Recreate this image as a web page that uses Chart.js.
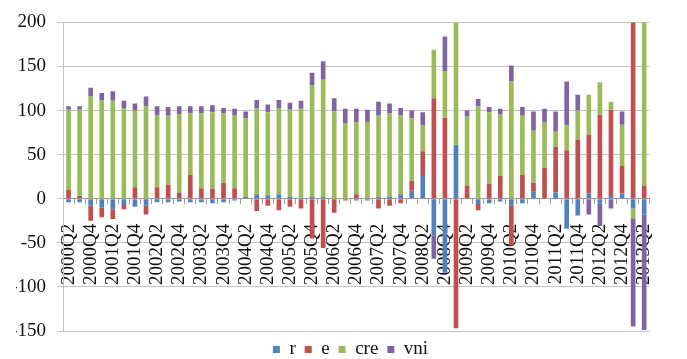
<!DOCTYPE html>
<html>
<head>
<meta charset="utf-8">
<script src="https://cdn.jsdelivr.net/npm/chart.js@4/dist/chart.umd.min.js"></script>
<style>
  html, body { margin: 0; padding: 0; background: #fff; }
  #wrap { width: 687px; height: 359px; }
</style>
</head>
<body>
<div id="wrap"><canvas id="c" width="687" height="359"></canvas></div>
<script>
// Quarterly categories, 2000Q2 .. 2013Q2
const quarters = [
  '2000Q2','2000Q3','2000Q4',
  '2001Q1','2001Q2','2001Q3','2001Q4',
  '2002Q1','2002Q2','2002Q3','2002Q4',
  '2003Q1','2003Q2','2003Q3','2003Q4',
  '2004Q1','2004Q2','2004Q3','2004Q4',
  '2005Q1','2005Q2','2005Q3','2005Q4',
  '2006Q1','2006Q2','2006Q3','2006Q4',
  '2007Q1','2007Q2','2007Q3','2007Q4',
  '2008Q1','2008Q2','2008Q3','2008Q4',
  '2009Q1','2009Q2','2009Q3','2009Q4',
  '2010Q1','2010Q2','2010Q3','2010Q4',
  '2011Q1','2011Q2','2011Q3','2011Q4',
  '2012Q1','2012Q2','2012Q3','2012Q4',
  '2013Q1','2013Q2'
];

// Stacked components per quarter
const r = [
  -4, -4, -8, -10, -12, -7, -9, -8, -4, -4, -3,
  -4, -4, -5, -4, -2, 2, 5, 4, 5, 2, 1, 2,
  2, 0, 0, -2, -2, 2, 2, 5, 9, 27, -42, -84,
  61, 0, -6, -5, -3, -8, -5, 8, 0, 7, -34, -19,
  6, -5, 3, 6, -11, -18
];
const e = [
  10, 3, -17, -11, -11, -5, 13, -10, 13, 16, 7,
  27, 12, 11, 18, 12, 0, -14, -8, -13, -9, -11, -45,
  -56, -16, -2, 5, 1, -11, -8, -5, 11, 27, 114, 92,
  -147, 15, -7, 17, 26, -45, 27, 10, 35, 52, 55, 67,
  67, 95, 98, 31, 205, 15
];
const cre = [
  91, 98, 116, 112, 111, 103, 87, 105, 82, 78, 89,
  70, 85, 87, 79, 83, 89, 98, 94, 98, 99, 101, 127,
  133, 99, 85, 82, 86, 93, 95, 90, 71, 29, 55, 53,
  142, 78, 105, 81, 70, 133, 67, 59, 52, 17, 28, 33,
  45, 37, 9, 47, -11, 190
];
const vni = [
  4, 4, 10, 8, 11, 8, 8, 11, 10, 10, 9,
  8, 8, 8, 6, 7, 8, 9, 9, 9, 8, 9, 14,
  21, 15, 17, 15, 14, 15, 11, 8, 9, 15, -26, 39,
  0, 7, 8, 6, 6, 18, 10, 22, 15, 23, 50, 18,
  -18, -26, -11, 15, -123, -131
];

// Value axis ticks
const yTicks = [-150, -100, -50, 0, 50, 100, 150, 200];

const serif = "'Liberation Serif', 'Times New Roman', serif";
const gridGray = '#c4c4c4';

new Chart(document.getElementById('c'), {
  type: 'bar',
  data: {
    labels: quarters,
    datasets: [
      { label: 'r',   data: r,   backgroundColor: '#4F81BD' },
      { label: 'e',   data: e,   backgroundColor: '#C0504D' },
      { label: 'cre', data: cre, backgroundColor: '#9BBB59' },
      { label: 'vni', data: vni, backgroundColor: '#8064A2' }
    ]
  },
  options: {
    responsive: false,
    animation: false,
    events: [],
    datasets: { bar: { barPercentage: 0.42, categoryPercentage: 1.0, borderWidth: 0 } },
    layout: { padding: { left: 16, right: 2, top: 17, bottom: 1 } },
    plugins: {
      tooltip: { enabled: false },
      legend: {
        position: 'bottom',
        maxHeight: 27,
        labels: {
          boxWidth: 7,
          boxHeight: 7,
          padding: 9,
          color: '#111',
          font: { family: serif, size: 19 }
        }
      }
    },
    scales: {
      x: {
        stacked: true,
        position: { y: 0 },
        offset: true,
        grid: {
          display: true,
          offset: true,
          drawOnChartArea: false,
          drawTicks: true,
          tickLength: 5,
          color: '#9a9a9a'
        },
        border: { display: true, color: '#9a9a9a', width: 1 },
        ticks: {
          autoSkip: false,
          maxRotation: 90,
          minRotation: 90,
          padding: 20,
          color: '#111',
          font: { family: serif, size: 19 },
          callback: function (v, i) { return i % 2 === 0 ? quarters[i] : ''; }
        }
      },
      y: {
        stacked: true,
        min: yTicks[0],
        max: yTicks[yTicks.length - 1],
        afterBuildTicks: function (scale) { scale.ticks = yTicks.map(v => ({ value: v })); },
        afterFit: function (scale) { scale.width = 47; },
        grid: {
          color: gridGray,
          drawTicks: true,
          tickLength: 6
        },
        border: { display: true, color: gridGray },
        ticks: {
          padding: 11,
          color: '#111',
          font: { family: serif, size: 19 }
        }
      }
    }
  }
});
</script>
</body>
</html>
